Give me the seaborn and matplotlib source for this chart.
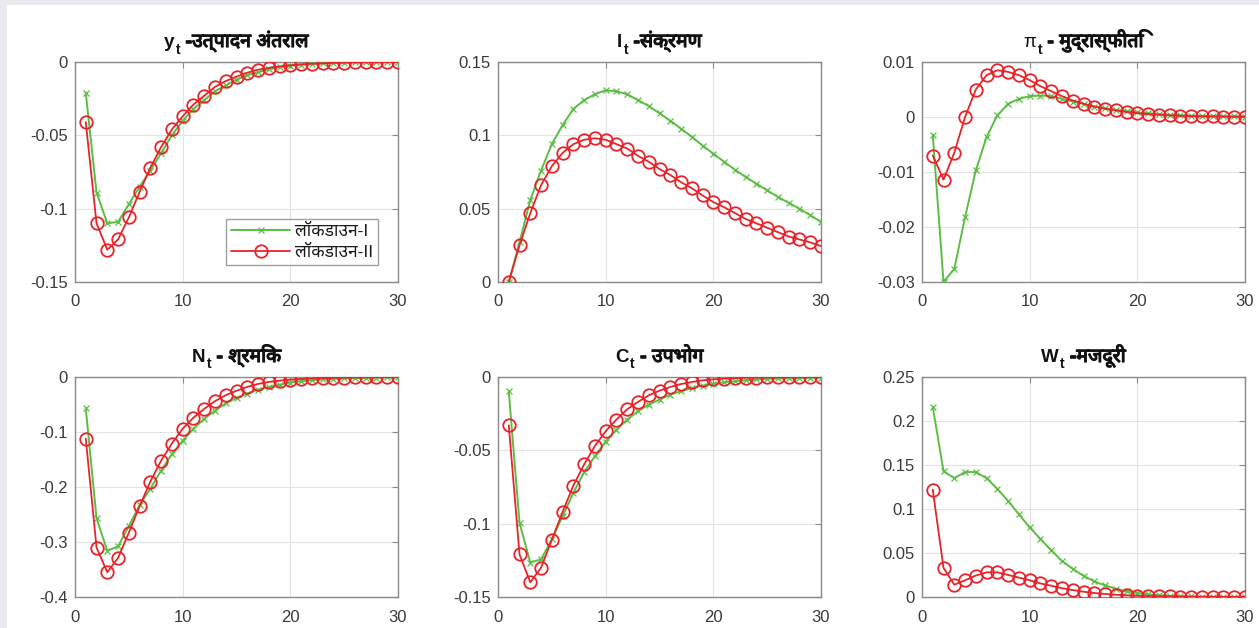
import numpy as np
import pandas as pd
import matplotlib
matplotlib.use("Agg")
import matplotlib.pyplot as plt
import matplotlib.patheffects as pe
import seaborn as sns
from matplotlib import font_manager
from matplotlib.transforms import IdentityTransform
from matplotlib.patches import Rectangle
from matplotlib.ticker import FuncFormatter

# ---------------- data ----------------
periods = list(range(1, 31))
series_labels = ['लॉकडाउन-I', 'लॉकडाउन-II']

output_gap_I = [-0.021, -0.089, -0.110, -0.109, -0.097, -0.085, -0.074, -0.062, -0.050, -0.040,
                -0.032, -0.026, -0.020, -0.016, -0.012, -0.009, -0.007, -0.005, -0.0035, -0.0025,
                -0.0018, -0.0013, -0.0009, -0.0006, -0.0004, -0.0003, -0.0002, -0.00015, -0.0001, -0.00007]
output_gap_II = [-0.041, -0.110, -0.128, -0.121, -0.106, -0.0886, -0.072, -0.058, -0.046, -0.037,
                 -0.029, -0.023, -0.017, -0.013, -0.010, -0.0073, -0.0052, -0.004, -0.003, -0.0023,
                 -0.0016, -0.0012, -0.0009, -0.0006, -0.0004, -0.0003, -0.0002, -0.00015, -0.0001, -0.00007]

infection_I = [0.0, 0.027, 0.056, 0.076, 0.094, 0.107, 0.118, 0.124, 0.128, 0.1307,
               0.130, 0.128, 0.124, 0.120, 0.115, 0.110, 0.1045, 0.099, 0.093, 0.0875,
               0.082, 0.0766, 0.0716, 0.067, 0.0625, 0.058, 0.054, 0.050, 0.0455, 0.041]
infection_II = [0.0, 0.025, 0.047, 0.066, 0.079, 0.088, 0.094, 0.097, 0.098, 0.097,
                0.094, 0.091, 0.086, 0.082, 0.077, 0.073, 0.068, 0.064, 0.059, 0.0545,
                0.051, 0.047, 0.043, 0.040, 0.037, 0.034, 0.031, 0.029, 0.027, 0.0245]

inflation_I = [-0.0033, -0.030, -0.0276, -0.0182, -0.0097, -0.0036, 0.0003, 0.0024, 0.0033, 0.0038,
               0.0039, 0.0038, 0.0033, 0.0028, 0.0024, 0.0019, 0.0016, 0.0013, 0.0011, 0.00085,
               0.0007, 0.00055, 0.0004, 0.0003, 0.00025, 0.0002, 0.00015, 0.0001, 0.0001, 0.00008]
inflation_II = [-0.0070, -0.0114, -0.0065, 0.0000, 0.0050, 0.0076, 0.0085, 0.0082, 0.0076, 0.0067,
                0.0056, 0.0047, 0.0038, 0.0030, 0.0024, 0.0019, 0.0015, 0.0012, 0.0009, 0.0007,
                0.0005, 0.0004, 0.0003, 0.0002, 0.00015, 0.0001, 0.0001, 0.00008, 0.00006, 0.00005]

labour_I = [-0.057, -0.257, -0.316, -0.308, -0.271, -0.233, -0.203, -0.170, -0.140, -0.116,
            -0.094, -0.076, -0.061, -0.048, -0.038, -0.030, -0.023, -0.018, -0.014, -0.010,
            -0.0078, -0.006, -0.0045, -0.0034, -0.0026, -0.002, -0.0015, -0.0011, -0.0008, -0.0006]
labour_II = [-0.112, -0.310, -0.355, -0.329, -0.283, -0.235, -0.190, -0.152, -0.121, -0.094,
             -0.074, -0.058, -0.044, -0.033, -0.025, -0.018, -0.0126, -0.009, -0.0066, -0.0048,
             -0.0036, -0.0027, -0.002, -0.0015, -0.001, -0.0008, -0.0006, -0.0004, -0.0003, -0.0002]

consumption_I = [-0.0098, -0.0995, -0.1265, -0.1243, -0.1107, -0.095, -0.079, -0.065, -0.054, -0.044,
                 -0.036, -0.029, -0.0234, -0.0188, -0.0154, -0.012, -0.0097, -0.0075, -0.0059, -0.0045,
                 -0.0036, -0.0029, -0.0022, -0.0017, -0.0013, -0.001, -0.0008, -0.0006, -0.0005, -0.0004]
consumption_II = [-0.0329, -0.121, -0.140, -0.130, -0.111, -0.092, -0.074, -0.0596, -0.047, -0.037,
                  -0.029, -0.022, -0.017, -0.0125, -0.0093, -0.0068, -0.0048, -0.0034, -0.0023, -0.0016,
                  -0.0011, -0.0008, -0.0005, -0.0004, -0.0003, -0.0002, -0.00015, -0.0001, -0.0001, -0.00005]

wage_I = [0.216, 0.143, 0.135, 0.142, 0.142, 0.135, 0.123, 0.109, 0.094, 0.079,
          0.066, 0.053, 0.041, 0.032, 0.024, 0.0177, 0.0132, 0.0094, 0.0064, 0.0045,
          0.003, 0.0019, 0.0013, 0.0009, 0.0006, 0.0004, 0.0003, 0.0002, 0.00015, 0.0001]
wage_II = [0.122, 0.033, 0.014, 0.019, 0.0244, 0.028, 0.028, 0.025, 0.022, 0.019,
           0.0154, 0.0128, 0.010, 0.0079, 0.006, 0.0045, 0.0034, 0.0026, 0.0019, 0.0014,
           0.001, 0.0008, 0.0006, 0.0004, 0.0003, 0.0002, 0.00015, 0.0001, 0.0001, 0.00005]

# title pieces: (symbol, subscript, rest, symbol bold?)
titles = [
    ('y', 't', ' -उत्पादन अंतराल', True),
    ('I', 't', ' -संक्रमण', True),
    ('π', 't', ' - मुद्रास्फीति', False),
    ('N', 't', ' - श्रमिक', True),
    ('C', 't', ' - उपभोग', True),
    ('W', 't', ' -मजदूरी', True),
]
panel_series = [
    (output_gap_I, output_gap_II),
    (infection_I, infection_II),
    (inflation_I, inflation_II),
    (labour_I, labour_II),
    (consumption_I, consumption_II),
    (wage_I, wage_II),
]
y_ticks = [
    [-0.15, -0.1, -0.05, 0],
    [0, 0.05, 0.1, 0.15],
    [-0.03, -0.02, -0.01, 0, 0.01],
    [-0.4, -0.3, -0.2, -0.1, 0],
    [-0.15, -0.1, -0.05, 0],
    [0, 0.05, 0.1, 0.15, 0.2, 0.25],
]
x_ticks = [0, 10, 20, 30]


# ---------------- fonts ----------------
def find_devanagari_font():
    try:
        from fontTools.ttLib import TTFont
    except Exception:
        return None
    found = {}
    for fe in font_manager.fontManager.ttflist:
        try:
            f = TTFont(fe.fname, fontNumber=0, lazy=True)
            cmap = f.getBestCmap()
            if cmap and 0x0915 in cmap:
                w = fe.weight if isinstance(fe.weight, int) else 400
                found.setdefault(fe.name, set()).add(w)
        except Exception:
            continue
    if not found:
        return None
    for name in found:
        if 'Devanagari' in name and 'Noto Sans' in name and 'UI' not in name:
            return name
    for name, ws in found.items():
        if any(w >= 600 for w in ws):
            return name
    return next(iter(found))


sns.set_theme(style='white')
deva = find_devanagari_font()
families = ['Liberation Sans']
if deva:
    families.append(deva)
families.append('DejaVu Sans')
plt.rcParams['font.family'] = families
plt.rcParams['axes.unicode_minus'] = False

W_PX, H_PX = 1259, 628
fig = plt.figure(figsize=(W_PX / 100, H_PX / 100), dpi=100, facecolor='white')

# lavender frame strips (top and left)
frame_col = '#ece8ef'
fig.patches.append(Rectangle((0, 1 - 5 / H_PX), 1, 5 / H_PX, transform=fig.transFigure,
                             facecolor=frame_col, edgecolor='none', zorder=0))
fig.patches.append(Rectangle((0, 0), 7 / W_PX, 1, transform=fig.transFigure,
                             facecolor=frame_col, edgecolor='none', zorder=0))

green = '#5cbd45'
red = '#e8232a'
spine_col = '#8a8a8a'
tick_col = '#3a3a3a'
title_col = '#111111'

col_left = [75, 498, 922]
ax_w = 323
row_top = [62, 377]
ax_h = 220

axes = []
for i in range(6):
    r, c = divmod(i, 3)
    left = col_left[c] / W_PX
    bottom = 1 - (row_top[r] + ax_h) / H_PX
    ax = fig.add_axes([left, bottom, ax_w / W_PX, ax_h / H_PX])
    axes.append(ax)


def tick_fmt(v, p):
    if abs(v) < 1e-12:
        return '0'
    return '%g' % round(v, 6)


fmt = FuncFormatter(tick_fmt)

for i, ax in enumerate(axes):
    s1, s2 = panel_series[i]
    sns.lineplot(x=periods, y=s1, ax=ax, color=green, linewidth=1.4, marker='x',
                 markersize=5, markeredgewidth=0.9, markeredgecolor=green,
                 label=series_labels[0], zorder=3)
    sns.lineplot(x=periods, y=s2, ax=ax, color=red, linewidth=1.3, marker='o',
                 markersize=9, markeredgewidth=1.3, markeredgecolor=red,
                 markerfacecolor='none', label=series_labels[1], zorder=4)
    yt = y_ticks[i]
    ax.set_xlim(0, 30)
    ax.set_ylim(min(yt), max(yt))
    ax.set_xticks(x_ticks)
    ax.set_yticks(yt)
    ax.yaxis.set_major_formatter(fmt)
    ax.set_xlabel('')
    ax.set_ylabel('')
    ax.set_facecolor('white')
    ax.grid(True, color='#e3e3e3', linewidth=0.8)
    ax.set_axisbelow(True)
    for sp in ax.spines.values():
        sp.set_visible(True)
        sp.set_color(spine_col)
        sp.set_linewidth(1.0)
    ax.tick_params(axis='both', direction='in', length=4, width=0.8, color=spine_col,
                   labelsize=12, labelcolor=tick_col, top=True, right=True)
    ax.tick_params(axis='x', pad=9)
    ax.tick_params(axis='y', pad=5)
    if i == 0:
        leg = ax.legend(loc='lower right', bbox_to_anchor=(0.938, 0.077), borderaxespad=0,
                        frameon=True, fancybox=False, edgecolor=spine_col, fontsize=12.5,
                        handlelength=3.4, handletextpad=0.25, borderpad=0.3, labelspacing=0.3)
        leg.get_frame().set_linewidth(1.0)
        for txt in leg.get_texts():
            txt.set_color('#1a1a1a')
    else:
        lg = ax.get_legend()
        if lg is not None:
            lg.remove()

# composite titles (symbol + subscript + Devanagari text)
renderer = fig.canvas.get_renderer()
ident = IdentityTransform()
bold_fx = [pe.withStroke(linewidth=0.9, foreground=title_col)]
for i, ax in enumerate(axes):
    sym, sub, rest, bold = titles[i]
    pos = ax.get_position()
    cx = (pos.x0 + pos.x1) / 2 * W_PX
    base = pos.y1 * H_PX + 15  # display coords (origin bottom)
    t1 = fig.text(0, base, sym, fontsize=13.5, fontweight='bold' if bold else 'normal',
                  ha='left', va='baseline', transform=ident, color=title_col)
    t2 = fig.text(0, base - 6.5, sub, fontsize=10, fontweight='bold',
                  ha='left', va='baseline', transform=ident, color=title_col)
    t3 = fig.text(0, base, rest, fontsize=14, fontweight='bold',
                  ha='left', va='baseline', transform=ident, color=title_col,
                  path_effects=bold_fx)
    w1 = t1.get_window_extent(renderer).width
    w2 = t2.get_window_extent(renderer).width
    w3 = t3.get_window_extent(renderer).width
    start = cx - (w1 + w2 + 1 + w3) / 2
    t1.set_x(start)
    t2.set_x(start + w1 + 1)
    t3.set_x(start + w1 + 1 + w2)

fig.savefig('out.png', dpi=100, facecolor='white')
